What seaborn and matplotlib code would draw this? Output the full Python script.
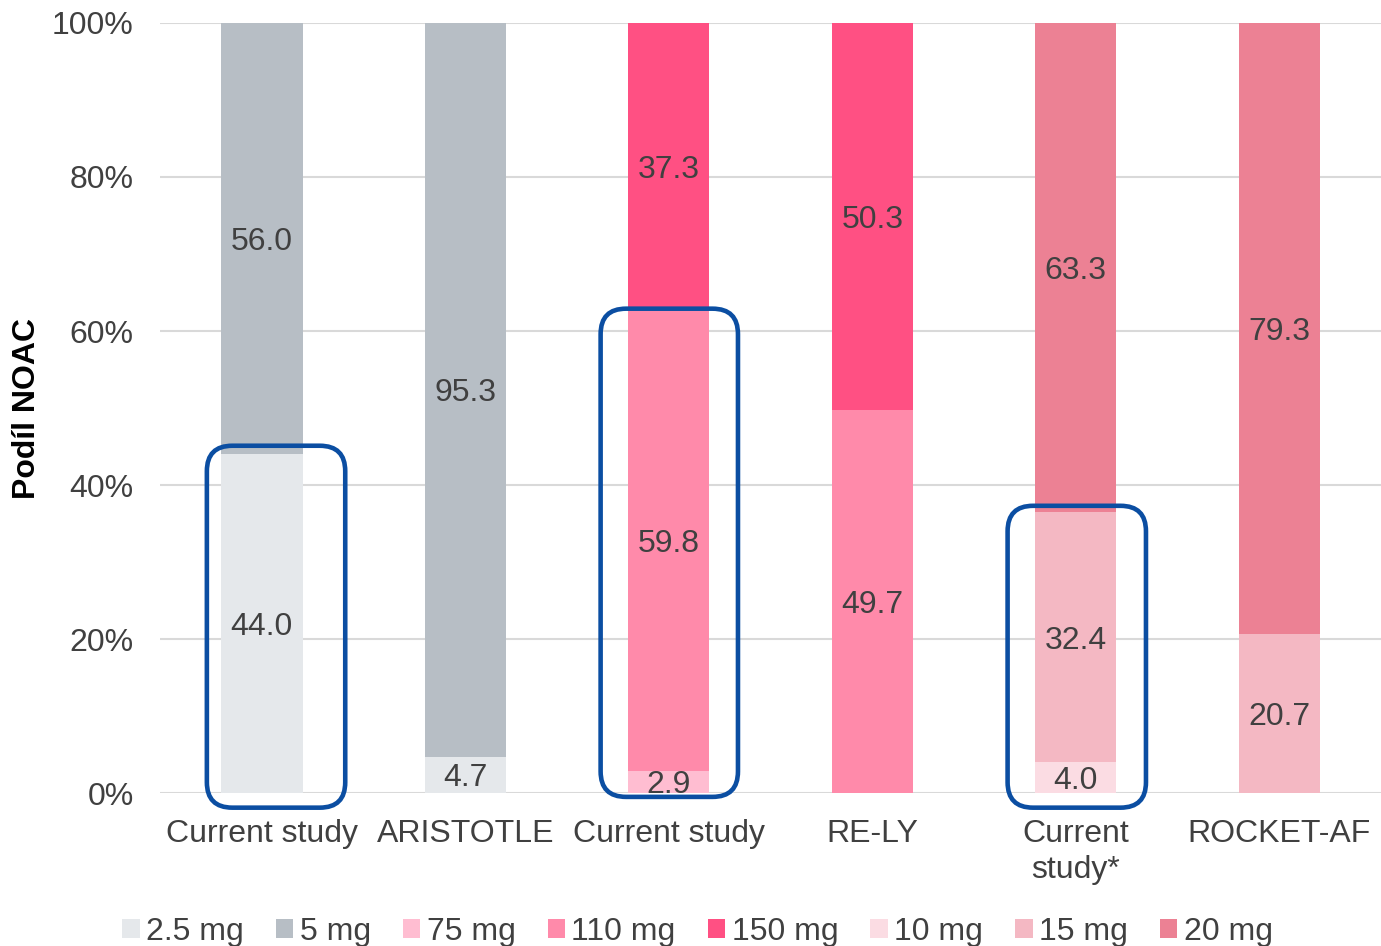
import numpy as np
import pandas as pd
import matplotlib
matplotlib.use("Agg")
import matplotlib.pyplot as plt
from matplotlib.patches import FancyBboxPatch, Patch
import seaborn as sns

# bars (unique keys) and the labels shown under them
bar_keys = ["apix_cur", "ARISTOTLE", "dabi_cur", "RE-LY", "riva_cur", "ROCKET-AF"]
bar_labels = ["Current study", "ARISTOTLE", "Current study", "RE-LY",
              "Current\nstudy*", "ROCKET-AF"]

# dose shares (%) per bar, bottom to top
doses = ["2.5 mg", "5 mg", "75 mg", "110 mg", "150 mg", "10 mg", "15 mg", "20 mg"]
d_2_5 = [44.0, 4.7, 0, 0, 0, 0]
d_5 = [56.0, 95.3, 0, 0, 0, 0]
d_75 = [0, 0, 2.9, 0, 0, 0]
d_110 = [0, 0, 59.8, 49.7, 0, 0]
d_150 = [0, 0, 37.3, 50.3, 0, 0]
d_10 = [0, 0, 0, 0, 4.0, 0]
d_15 = [0, 0, 0, 0, 32.4, 20.7]
d_20 = [0, 0, 0, 0, 63.3, 79.3]
dose_values = [d_2_5, d_5, d_75, d_110, d_150, d_10, d_15, d_20]

colors = ["#E5E8EB", "#B7BEC5", "#FFBDD1", "#FF8AAA", "#FF5083",
          "#FBDCE3", "#F4B8C3", "#EC8194"]

# highlighted "current study" bars: (bar index, left, right, bottom, top)
boxes = [(0, -0.27, 0.41, -1.9, 45.1),
         (2, -0.335, 0.34, -0.5, 62.9),
         (4, -0.335, 0.345, -1.9, 37.3)]

plt.rcParams["font.family"] = ["Liberation Sans", "DejaVu Sans"]
txt = "#404040"
fs = 23

fig = plt.figure(figsize=(13.81, 9.46), dpi=100)
ax = fig.add_axes([0.1159, 0.1617, 0.8841, 0.814])

raw = np.array(dose_values, dtype=float)
pct = raw / raw.sum(axis=0) * 100  # 100% stacked, like Excel
bottom = np.zeros(len(bar_keys))

for dose, vals, col in zip(doses, pct, colors):
    df = pd.DataFrame({"bar": bar_keys, "share": vals})
    sns.barplot(data=df, x="bar", y="share", order=bar_keys, color=col,
                width=0.4, bottom=bottom.copy(), ax=ax, linewidth=0,
                saturation=1, zorder=2)
    for i, (v, r) in enumerate(zip(vals, raw[doses.index(dose)])):
        if r > 0:
            ax.text(i, bottom[i] + v / 2, f"{r:.1f}", ha="center",
                    va="center_baseline", fontsize=fs, color=txt, zorder=6)
    bottom += vals

ax.set_xlim(-0.5, len(bar_keys) - 0.5)
ax.set_ylim(0, 100)
ax.set_yticks(range(0, 101, 20))
ax.set_yticklabels([f"{t}%" for t in range(0, 101, 20)], fontsize=fs, color=txt)
ax.set_xticks(range(len(bar_keys)))
ax.set_xticklabels(bar_labels, fontsize=fs, color=txt, linespacing=1.25)
ax.tick_params(axis="y", length=0, pad=19)
ax.tick_params(axis="x", length=0, pad=19)
ax.set_xlabel("")
ax.set_ylabel("Podíl NOAC", fontsize=fs, fontweight="bold", color="black",
              va="center")
ax.yaxis.set_label_coords(-0.109, 0.5)
ax.yaxis.grid(True, color="#D9D9D9", linewidth=1.5, zorder=0)
ax.set_axisbelow(True)
for s in ax.spines.values():
    s.set_visible(False)

# rounded highlight boxes
fig.canvas.draw()
bb = ax.get_window_extent()
aspect = (bb.width / len(bar_keys)) / (bb.height / 100)
for i, l, r, b, t in boxes:
    p = FancyBboxPatch((i + l, b), r - l, t - b,
                       boxstyle="round,pad=0,rounding_size=0.125",
                       mutation_aspect=aspect, facecolor="none",
                       edgecolor="#0B4EA2", linewidth=3.3, zorder=4,
                       clip_on=False)
    ax.add_patch(p)

handles = [Patch(facecolor=c, edgecolor="none", label=d) for d, c in zip(doses, colors)]
fig.legend(handles=handles, loc="lower center", bbox_to_anchor=(0.505, -0.031),
           ncol=len(doses), frameon=False, fontsize=fs, labelcolor=txt,
           handlelength=0.55, handleheight=0.55, handletextpad=0.2,
           columnspacing=1.0)

fig.savefig("out.png", dpi=100)
